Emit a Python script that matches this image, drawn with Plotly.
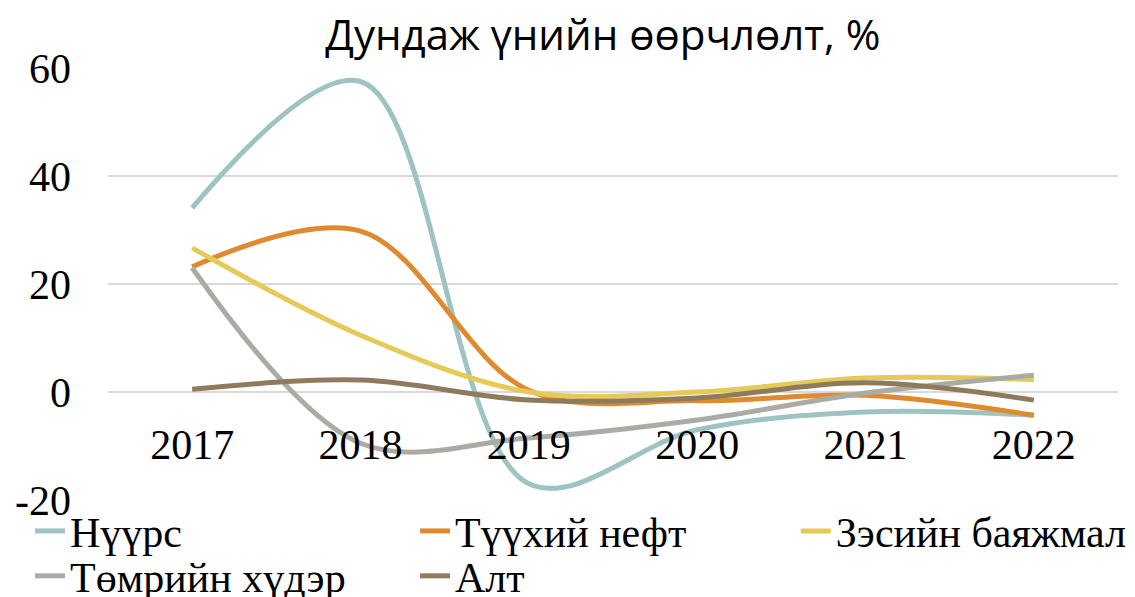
import plotly.graph_objects as go

years = ["2017", "2018", "2019", "2020", "2021", "2022"]
coal = [34.1, 57.5, -17.0, -7.0, -3.7, -4.3]
crude_oil = [23.2, 29.8, 0.3, -1.6, -0.6, -4.3]
copper = [26.7, 10.5, 0.0, 0.0, 2.6, 2.3]
iron_ore = [23.0, -9.5, -8.5, -5.2, -0.2, 3.1]
gold = [0.5, 2.2, -1.5, -1.1, 1.7, -1.5]

series_names = ["Нүүрс", "Түүхий нефт", "Зэсийн баяжмал", "Төмрийн хүдэр", "Алт"]
series_values = [coal, crude_oil, copper, iron_ore, gold]
series_colors = ["#9FC3C0", "#DF8A2F", "#E6CA58", "#ABABA6", "#8E7B5E"]

y_tickvals = [-20, 0, 20, 40, 60]
y_ticktext = ["-20", "0", "20", "40", "60"]

title_text = "Дундаж үнийн өөрчлөлт, %"

SERIF = "'Liberation Serif', 'Times New Roman', serif"

# one legend box per entry so the 3+2 grid of the reference can be placed exactly
legend_ids = ["legend", "legend2", "legend3", "legend4", "legend5"]
legend_pos = [(-0.0772, -0.072), (0.304, -0.072), (0.681, -0.072),
              (-0.0772, -0.176), (0.304, -0.176)]

fig = go.Figure()
for name, vals, col, lid in zip(series_names, series_values, series_colors, legend_ids):
    fig.add_trace(go.Scatter(
        x=years, y=vals, name=name, mode="lines", legend=lid,
        line=dict(color=col, width=5, shape="spline", smoothing=1.0),
    ))

legend_layout = {}
for lid, (lx, ly) in zip(legend_ids, legend_pos):
    legend_layout[lid] = dict(
        orientation="h", x=lx, xanchor="left", y=ly, yanchor="middle",
        font=dict(family=SERIF, size=42, color="black"),
        bgcolor="rgba(0,0,0,0)", borderwidth=0,
    )

fig.update_layout(
    width=1135, height=597,
    margin=dict(l=108, r=17, t=68, b=97, autoexpand=False),
    paper_bgcolor="white", plot_bgcolor="white",
    title=dict(text=title_text, x=0.49, xref="paper", xanchor="center",
               y=0.941, yref="container", yanchor="middle",
               font=dict(family="Open Sans", size=42, color="black")),
    font=dict(family=SERIF, color="black"),
    showlegend=True,
    **legend_layout,
)
fig.update_xaxes(type="category", range=[-0.5, 5.5], anchor="free", position=0.25,
                 showgrid=False, showline=False, zeroline=False, ticks="",
                 ticklabelstandoff=24,
                 tickfont=dict(family=SERIF, size=42, color="black"))
fig.update_yaxes(range=[-20, 60], tickvals=y_tickvals, ticktext=y_ticktext,
                 showgrid=True, gridcolor="#D9D9D9", gridwidth=2,
                 zeroline=False, showline=False, ticks="",
                 ticklabelstandoff=36,
                 tickfont=dict(family=SERIF, size=42, color="black"))

fig.write_html("out.html", config={"displayModeBar": False},
               post_script="document.body.style.margin='0';document.body.style.overflow='hidden';")
